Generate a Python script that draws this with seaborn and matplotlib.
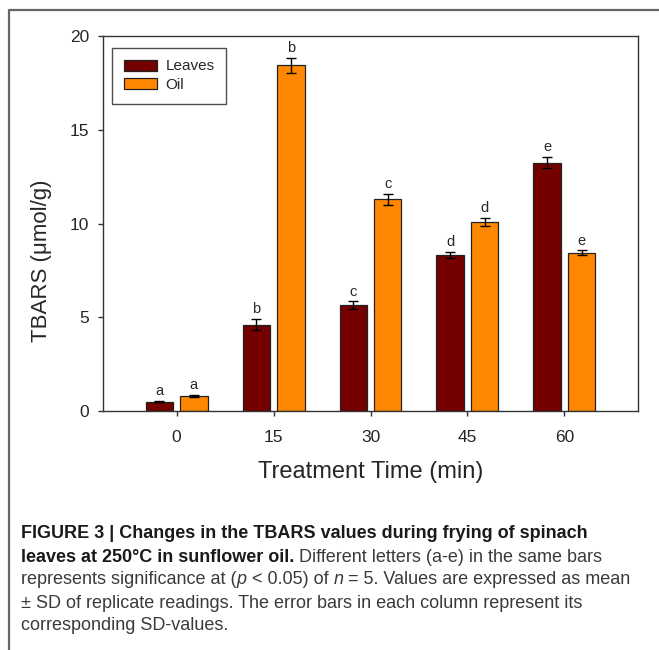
import matplotlib
matplotlib.use("Agg")
import matplotlib.pyplot as plt
import seaborn as sns
import pandas as pd

times = ["0", "15", "30", "45", "60"]
leaves = [0.5, 4.6, 5.65, 8.32, 13.25]
leaves_sd = [0.02, 0.3, 0.2, 0.17, 0.3]
oil = [0.8, 18.45, 11.3, 10.08, 8.45]
oil_sd = [0.05, 0.4, 0.3, 0.22, 0.12]
leaves_letters = ["a", "b", "c", "d", "e"]
oil_letters = ["a", "b", "c", "d", "e"]

df = pd.DataFrame({
    "time": times * 2,
    "tbars": leaves + oil,
    "sample": ["Leaves"] * len(times) + ["Oil"] * len(times),
})

sns.set_style("white")
plt.rcParams["font.family"] = ["Liberation Sans", "DejaVu Sans"]

fig = plt.figure(figsize=(6.59, 6.5), dpi=100)
ax = fig.add_axes([103 / 659, 1 - 411 / 650, (638 - 103) / 659, (411 - 36) / 650])

sns.barplot(data=df, x="time", y="tbars", hue="sample", order=times,
            palette={"Leaves": "#740000", "Oil": "#FF8800"}, saturation=1,
            width=0.71, gap=0.2, edgecolor="#222222", linewidth=0.9,
            errorbar=None, ax=ax)

# error bars and significance letters on top of each bar
for cont, sds, letters in zip(ax.containers, [leaves_sd, oil_sd], [leaves_letters, oil_letters]):
    for bar, sd, let in zip(cont, sds, letters):
        cx = bar.get_x() + bar.get_width() / 2
        h = bar.get_height()
        ax.errorbar(cx, h, yerr=sd, fmt="none", ecolor="black", elinewidth=1,
                    capsize=3.4, capthick=1)
        ax.text(cx, h + sd + 0.15, let, ha="center", va="bottom", fontsize=10.5)

ax.set_xlim(-0.76, 4.76)
ax.set_ylim(0, 20)
ax.set_yticks([0, 5, 10, 15, 20])
ax.tick_params(axis="both", direction="out", length=3.5, width=1, color="#333333",
               labelsize=12.5, bottom=True, left=True)
ax.tick_params(axis="x", pad=10)
ax.tick_params(axis="y", pad=6.5)
for sp in ax.spines.values():
    sp.set_color("#333333")
    sp.set_linewidth(1)

ax.set_xlabel("Treatment Time (min)", fontsize=17, labelpad=12)
ax.set_ylabel("TBARS (\u03bcmol/g)", fontsize=16)
ax.yaxis.set_label_coords(-0.095, 0.4)

leg = ax.legend(loc="upper left", bbox_to_anchor=(0.017, 0.968), fontsize=11,
                frameon=True, fancybox=False, edgecolor="#222222",
                handlelength=2.2, handleheight=0.75, borderpad=0.75,
                labelspacing=0.3, borderaxespad=0, handletextpad=0.55)
leg.get_frame().set_linewidth(1)
leg.set_title(None)

# figure frame (top and left edges)
fig.add_artist(plt.Line2D([9 / 659, 9 / 659, 1], [0, 1 - 10 / 650, 1 - 10 / 650],
                          transform=fig.transFigure, color="#666666", linewidth=1.6))

# caption with mixed bold / italic runs
renderer = fig.canvas.get_renderer()
cap_size = 13


def width_of(s, **kw):
    t = fig.text(0, 0, s, fontsize=cap_size, **kw)
    w = t.get_window_extent(renderer).width
    t.remove()
    return w


def draw_line(y_px, runs, x_px=21):
    x = x_px
    for s, kw in runs:
        lead = len(s) - len(s.lstrip(" "))
        core = s.strip(" ")
        trail = len(s) - len(s.rstrip(" "))
        sp = width_of("x x", **kw) - width_of("xx", **kw)
        x += lead * sp
        t = fig.text(x / 659, 1 - y_px / 650, core, fontsize=cap_size, va="center",
                     ha="left", **kw)
        x += t.get_window_extent(renderer).width + trail * sp


B = dict(fontweight="bold", color="#1a1a1a")
R = dict(color="#3a3a3a")
I = dict(color="#3a3a3a", fontstyle="italic")

draw_line(534, [("FIGURE 3 | Changes in the TBARS values during frying of spinach", B)])
draw_line(557, [("leaves at 250\u00b0C in sunflower oil. ", B),
                ("Different letters (a-e) in the same bars", R)])
draw_line(580, [("represents significance at (", R), ("p", I), (" < 0.05) of ", R),
                ("n", I), (" = 5. Values are expressed as mean", R)])
draw_line(603, [("\u00b1 SD of replicate readings. The error bars in each column represent its", R)])
draw_line(626, [("corresponding SD-values.", R)])

fig.savefig("out.png", dpi=100)
